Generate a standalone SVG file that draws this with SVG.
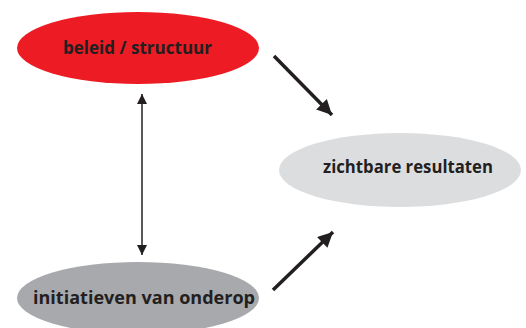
<svg xmlns="http://www.w3.org/2000/svg" width="526" height="328" viewBox="0 0 526 328">
<style>
.lbl{font-family:"Open Sans","Liberation Sans",sans-serif;font-weight:bold;font-size:17px;fill:#231f20;text-anchor:middle;dominant-baseline:central}
.thin{stroke:#231f20;stroke-width:1.5;fill:none}
.thick{stroke:#231f20;stroke-width:3.5;fill:none;stroke-linecap:butt}
</style>
<defs>
<marker id="ah" viewBox="0 0 10 10" refX="10" refY="5" markerWidth="10" markerHeight="12" markerUnits="userSpaceOnUse" orient="auto-start-reverse">
<path d="M0,0 L10,5 L0,10 Z" fill="#231f20"/>
</marker>
<marker id="ahb" viewBox="0 0 10 10" refX="10" refY="5" markerWidth="16" markerHeight="15" markerUnits="userSpaceOnUse" orient="auto">
<path d="M0,0 L10,5 L0,10 Z" fill="#231f20"/>
</marker>
</defs>
<rect width="526" height="328" fill="#ffffff"/>
<g id="beleid">
<ellipse cx="138" cy="48" rx="121" ry="36" fill="#ed1c24"/>
<text class="lbl" x="137.5" y="47" textLength="149" lengthAdjust="spacingAndGlyphs">beleid / structuur</text>
</g>
<g id="resultaten">
<ellipse cx="400" cy="170" rx="121" ry="37" fill="#dcdddf"/>
<text class="lbl" x="408" y="166" textLength="170" lengthAdjust="spacingAndGlyphs">zichtbare resultaten</text>
</g>
<g id="initiatieven">
<ellipse cx="138" cy="298" rx="121" ry="36" fill="#a7a9ac"/>
<text class="lbl" x="144" y="297" textLength="222" lengthAdjust="spacingAndGlyphs">initiatieven van onderop</text>
</g>
<g id="connectors">
<line class="thin" x1="142" y1="94" x2="142" y2="255" marker-start="url(#ah)" marker-end="url(#ah)"/>
<line class="thick" x1="274" y1="56" x2="332" y2="115" marker-end="url(#ahb)"/>
<line class="thick" x1="273" y1="290" x2="333" y2="232" marker-end="url(#ahb)"/>
</g>
</svg>
